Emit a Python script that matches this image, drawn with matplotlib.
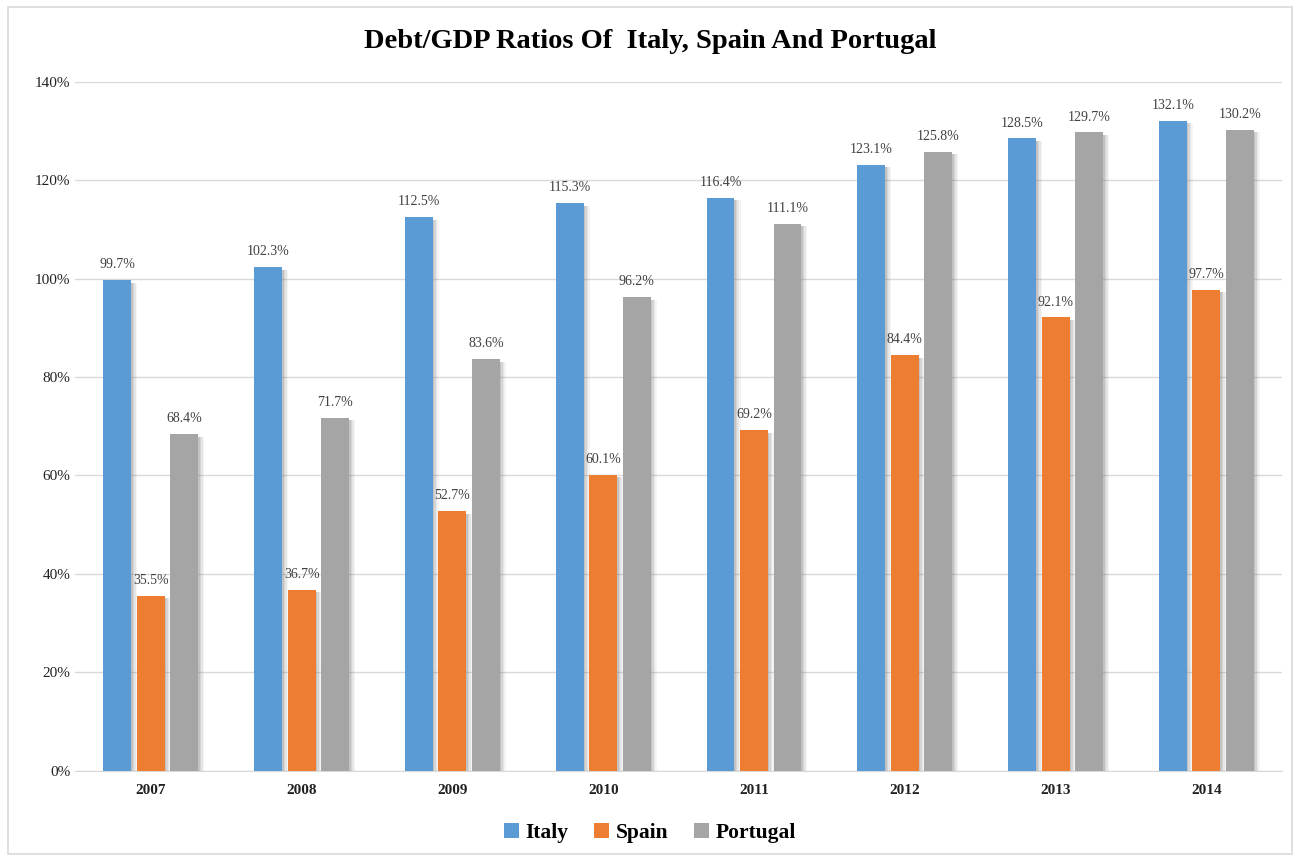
import numpy as np
import matplotlib.pyplot as plt
from matplotlib.patches import Rectangle

# data
years = ["2007", "2008", "2009", "2010", "2011", "2012", "2013", "2014"]
italy = [99.7, 102.3, 112.5, 115.3, 116.4, 123.1, 128.5, 132.1]
spain = [35.5, 36.7, 52.7, 60.1, 69.2, 84.4, 92.1, 97.7]
portugal = [68.4, 71.7, 83.6, 96.2, 111.1, 125.8, 129.7, 130.2]

series = [("Italy", italy, "#5B9BD5"),
          ("Spain", spain, "#ED7D31"),
          ("Portugal", portugal, "#A5A5A5")]

plt.rcParams['font.family'] = ['Liberation Serif', 'DejaVu Serif']

fig = plt.figure(figsize=(13, 8.61), dpi=100)
ax = fig.add_axes([0.058, 0.105, 0.928, 0.80])

x = np.arange(len(years))
w = 0.185
offs = [-0.222, 0.0, 0.222]

for (name, vals, col), off in zip(series, offs):
    # soft shadow to the right of each bar
    for k, a in zip([0.04, 0.03, 0.02, 0.01], [0.07, 0.10, 0.14, 0.18]):
        ax.bar(x + off + k, np.array(vals) - 0.5, w, color="#6f6f6f",
               alpha=a, zorder=2, linewidth=0)
    ax.bar(x + off, vals, w, color=col, label=name, zorder=3)
    for xi, v in zip(x + off, vals):
        ax.text(xi, v + 1.8, f"{v:.1f}%", ha="center", va="bottom",
                fontsize=10, color="#404040", zorder=4)

ax.set_ylim(0, 140)
ax.set_xlim(-0.5, len(years) - 0.5)
ax.set_yticks(np.arange(0, 141, 20))
ax.set_yticklabels([f"{t}%" for t in range(0, 141, 20)], fontsize=11)
ax.set_xticks(x)
ax.set_xticklabels(years, fontsize=11, fontweight="bold")
ax.yaxis.grid(True, color="#d9d9d9", linewidth=1, zorder=0)
ax.set_axisbelow(True)
for s in ["top", "right", "left"]:
    ax.spines[s].set_visible(False)
ax.spines["bottom"].set_color("#d9d9d9")
ax.tick_params(axis="both", length=0, colors="#222222")
ax.tick_params(axis="x", pad=10)

fig.text(0.5, 0.952, "Debt/GDP Ratios Of  Italy, Spain And Portugal",
         ha="center", va="center", fontsize=20.5, fontweight="bold")

h, l = ax.get_legend_handles_labels()
fig.legend(h, l, loc="center", bbox_to_anchor=(0.5, 0.033), ncol=3,
           frameon=False, handlelength=0.7, handleheight=0.7,
           columnspacing=1.2, handletextpad=0.3,
           prop={"weight": "bold", "size": 15.5})

fig.add_artist(Rectangle((0.006, 0.008), 0.988, 0.984, transform=fig.transFigure,
                         fill=False, edgecolor="#d9d9d9", linewidth=1.2))

fig.savefig("out.png", dpi=100)
